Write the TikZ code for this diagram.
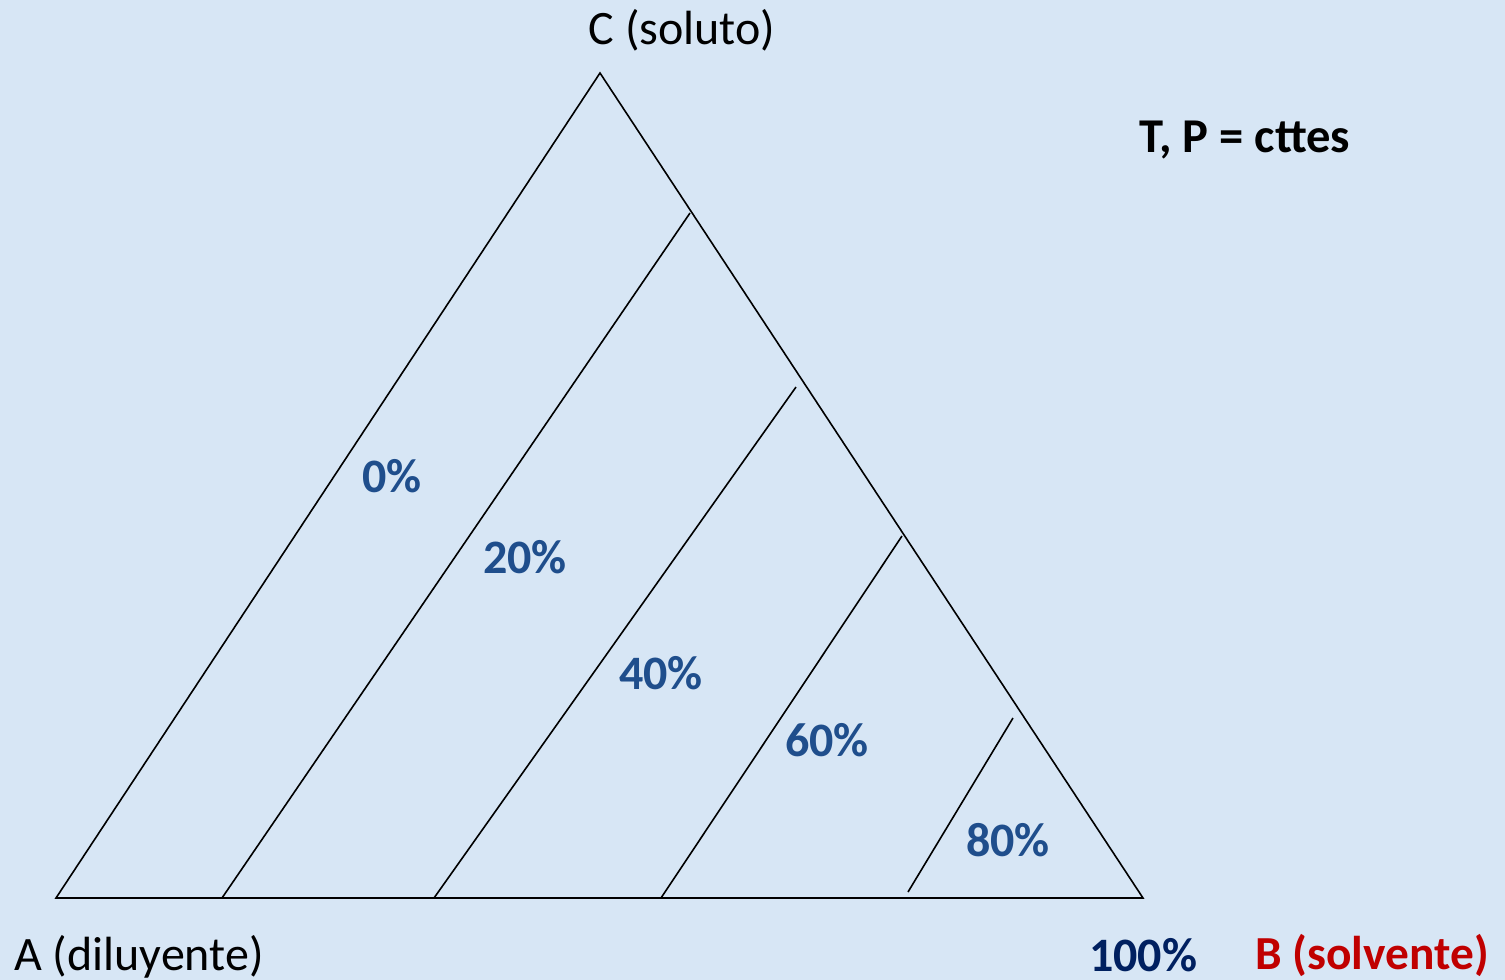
\documentclass[tikz,border=0pt]{standalone}
\usepackage{fontspec}
\setmainfont{Carlito}
\definecolor{bgblue}{RGB}{215,230,245}
\definecolor{pctblue}{RGB}{31,78,140}
\definecolor{navy}{RGB}{0,32,96}
\definecolor{redlbl}{RGB}{192,0,0}
\begin{document}
\begin{tikzpicture}[x=0.5pt,y=-0.5pt,
  edge/.style={black,line width=0.8pt},
  pct/.style={font=\fontsize{24}{27}\selectfont\bfseries,text=pctblue,inner sep=0pt},
  lbl/.style={font=\fontsize{24}{27}\selectfont,inner sep=0pt}]
\fill[bgblue] (0,0) rectangle (1505,980);
\useasboundingbox (0,0) rectangle (1505,980);
\coordinate (A) at (56,898);
\coordinate (B) at (1143,898);
\coordinate (C) at (600,73);
\coordinate (l20a) at (222,898);
\coordinate (l20b) at (690,213);
\coordinate (l40a) at (434,898);
\coordinate (l40b) at (796,387);
\coordinate (l60a) at (661,898);
\coordinate (l60b) at (902,536);
\coordinate (l80a) at (908,892);
\coordinate (l80b) at (1013,718);
\draw[edge,line join=miter] (A) -- (B) -- (C) -- cycle;
\draw[edge] (l20a) -- (l20b);
\draw[edge] (l40a) -- (l40b);
\draw[edge] (l60a) -- (l60b);
\draw[edge] (l80a) -- (l80b);
\node[lbl] (ctop) at (682,30) {C (soluto)};
\node[lbl,font=\fontsize{24.3}{27}\selectfont\bfseries] (tp) at (1245,140) {T, P = cttes};
\node[pct] (p0) at (392,476) {0\%};
\node[pct] (p20) at (525,557) {20\%};
\node[pct] (p40) at (661,673) {40\%};
\node[pct] (p60) at (827,740) {60\%};
\node[pct] (p80) at (1008,840) {80\%};
\node[lbl] (a) at (139,957) {A (diluyente)};
\node[pct,text=navy] (p100) at (1143,955) {100\%};
\node[pct,text=redlbl,font=\fontsize{23.7}{27}\selectfont\bfseries] (b) at (1372,955) {B (solvente)};
\end{tikzpicture}
\end{document}
